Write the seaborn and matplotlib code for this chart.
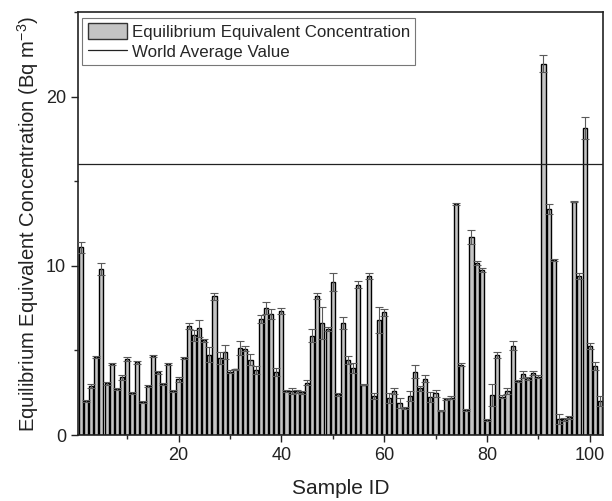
import numpy as np
import pandas as pd
import matplotlib
matplotlib.use("Agg")
import matplotlib.pyplot as plt
import seaborn as sns
from matplotlib.ticker import MultipleLocator
from matplotlib.patches import Patch
from matplotlib.lines import Line2D

sample_id = list(range(1, 103))
concentration = [
    11.1, 2.0, 2.9, 4.6, 9.8, 3.05, 4.2, 2.7, 3.4, 4.5,
    2.5, 4.3, 1.95, 2.9, 4.65, 3.7, 3.0, 4.2, 2.6, 3.3,
    4.55, 6.45, 5.9, 6.3, 5.6, 4.75, 8.2, 4.55, 4.9, 3.75,
    3.88, 5.15, 5.1, 4.45, 3.85, 6.85, 7.5, 7.15, 3.75, 7.33,
    2.62, 2.62, 2.58, 2.52, 3.1, 5.88, 8.22, 6.6, 6.25, 9.05,
    2.41, 6.6, 4.44, 3.95, 8.88, 2.98, 9.41, 2.33, 6.8, 7.26,
    2.21, 2.62, 1.87, 1.58, 2.33, 3.75, 2.76, 3.33, 2.27, 2.47,
    1.44, 2.13, 2.21, 13.67, 4.16, 1.48, 11.7, 10.16, 9.76, 0.89,
    2.37, 4.73, 2.27, 2.62, 5.27, 3.2, 3.59, 3.35, 3.69, 3.45,
    21.95, 13.37, 10.36, 0.93, 0.93, 1.05, 13.8, 9.4, 18.13, 5.27,
    4.08, 2.03,
]
uncertainty = [
    0.32, 0.05, 0.12, 0.05, 0.36, 0.1, 0.05, 0.05, 0.14, 0.12,
    0.05, 0.1, 0.05, 0.05, 0.05, 0.1, 0.05, 0.05, 0.05, 0.15,
    0.08, 0.2, 0.33, 0.5, 0.1, 0.45, 0.2, 0.33, 0.43, 0.1,
    0.05, 0.41, 0.16, 0.33, 0.24, 0.24, 0.36, 0.28, 0.24, 0.16,
    0.05, 0.18, 0.1, 0.1, 0.16, 0.37, 0.2, 0.95, 0.12, 0.55,
    0.1, 0.36, 0.24, 0.3, 0.2, 0.05, 0.16, 0.18, 0.75, 0.2,
    0.3, 0.18, 0.3, 0.05, 0.3, 0.36, 0.16, 0.2, 0.3, 0.2,
    0.05, 0.05, 0.1, 0.05, 0.1, 0.05, 0.4, 0.1, 0.14, 0.05,
    0.63, 0.16, 0.1, 0.18, 0.26, 0.05, 0.2, 0.1, 0.12, 0.08,
    0.5, 0.3, 0.05, 0.3, 0.1, 0.1, 0.05, 0.2, 0.65, 0.16,
    0.26, 0.3,
]
world_average = 16.0

df = pd.DataFrame({"Sample ID": sample_id, "EEC": concentration, "err": uncertainty})

sns.set_style("ticks")
plt.rcParams["font.family"] = ["Liberation Sans", "DejaVu Sans"]

fig = plt.figure(figsize=(6.12, 5.01), dpi=100)
ax = fig.add_axes([0.1275, 0.1317, 0.8575, 0.8443])

sns.barplot(data=df, x="Sample ID", y="EEC", native_scale=True, width=0.8,
            color="#c4c4c4", saturation=1, edgecolor="black", linewidth=1.0,
            errorbar=None, ax=ax, zorder=2)
ax.errorbar(df["Sample ID"], df["EEC"], yerr=df["err"], fmt="none",
            ecolor="#5a5a5a", elinewidth=0.8, capsize=2.6, capthick=0.8, zorder=3)
ax.axhline(world_average, color="#222222", lw=0.9, zorder=4)

ax.set_xlim(0.45, 102.55)
ax.set_ylim(0, 25)
ax.xaxis.set_major_locator(MultipleLocator(20))
ax.xaxis.set_minor_locator(MultipleLocator(10))
ax.yaxis.set_major_locator(MultipleLocator(10))
ax.yaxis.set_minor_locator(MultipleLocator(5))
ax.tick_params(axis="both", which="major", direction="out", length=5, width=1.0,
               labelsize=13, colors="#222222")
ax.tick_params(axis="both", which="minor", direction="out", length=3, width=1.0)
for s in ax.spines.values():
    s.set_visible(True)
    s.set_linewidth(1.2)
    s.set_color("#222222")

ax.set_xlabel("Sample ID", fontsize=15, color="#222222", labelpad=11)
ax.set_ylabel("Equilibrium Equivalent Concentration (Bq m$^{\\mathregular{-3}}$)",
              fontsize=14.6, color="#222222", labelpad=4)

handles = [Patch(facecolor="#c4c4c4", edgecolor="#333333", linewidth=1.0),
           Line2D([0], [0], color="#222222", lw=0.9)]
leg = ax.legend(handles, ["Equilibrium Equivalent Concentration", "World Average Value"],
                loc="upper left", bbox_to_anchor=(0.002, 0.993), fontsize=12.2,
                frameon=True, fancybox=False, borderpad=0.3, labelspacing=0.2,
                handlelength=2.3, handleheight=1.0, handletextpad=0.3,
                borderaxespad=0.2)
leg.get_frame().set_edgecolor("#555555")
leg.get_frame().set_linewidth(0.8)

fig.savefig("out.png", dpi=100)
